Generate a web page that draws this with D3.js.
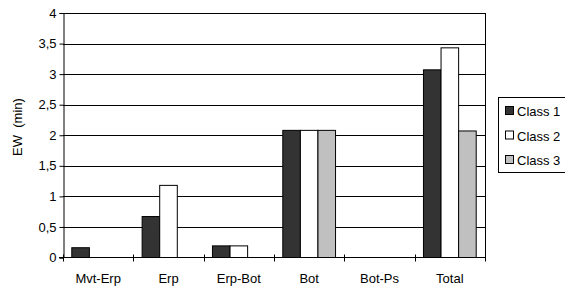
<!DOCTYPE html>
<meta charset="utf-8">
<style>
body { margin: 0; background: #fff; }
svg { font-family: "Liberation Sans", Arial, sans-serif; font-size: 13px; }
.grid line { stroke: #000; stroke-width: 1; }
.axis path, .axis line { stroke: #000; }
</style>
<body>
<div id="chart"></div>
<script src="https://cdn.jsdelivr.net/npm/d3@7"></script>
<script>
var categories = ["Mvt-Erp", "Erp", "Erp-Bot", "Bot", "Bot-Ps", "Total"];
var classes = ["Class 1", "Class 2", "Class 3"];
var class1 = [0.16, 0.67, 0.19, 2.08, 0, 3.07];
var class2 = [0, 1.18, 0.19, 2.08, 0, 3.43];
var class3 = [0, 0, 0, 2.08, 0, 2.07];
var yTicks = [0, 0.5, 1, 1.5, 2, 2.5, 3, 3.5, 4];
var colors = ["#333333", "#ffffff", "#c0c0c0"];

var series = [class1, class2, class3];

var svg = d3.select("#chart").append("svg")
    .attr("width", 565)
    .attr("height", 288);

var pLeft = 63, pRight = 485, pTop = 13, pBottom = 257.5;

var x = d3.scaleBand().domain(categories).range([pLeft, pRight]);
var xs = d3.scaleBand().domain(classes).range([0, x.bandwidth()]).paddingInner(0).paddingOuter(0.5);
var y = d3.scaleLinear().domain([0, 4]).range([pBottom, pTop]);

// horizontal grid
svg.append("g").attr("class", "grid")
  .selectAll("line").data(yTicks.slice(1)).enter().append("line")
    .attr("x1", pLeft).attr("x2", pRight)
    .attr("y1", function(d) { return Math.round(y(d)) + 0.5; })
    .attr("y2", function(d) { return Math.round(y(d)) + 0.5; });

// right frame
svg.append("line").attr("x1", pRight + 0.5).attr("x2", pRight + 0.5)
  .attr("y1", pTop).attr("y2", pBottom).attr("stroke", "#000");

// bars
categories.forEach(function(c, i) {
  series.forEach(function(s, k) {
    if (s[i] <= 0) return;
    svg.append("rect")
      .attr("x", x(c) + xs(classes[k]))
      .attr("y", y(s[i]))
      .attr("width", xs.bandwidth())
      .attr("height", pBottom - y(s[i]))
      .attr("fill", colors[k])
      .attr("stroke", "#000")
      .attr("stroke-width", 1);
  });
});

// y axis
var yAxis = d3.axisLeft(y).tickValues(yTicks).tickSize(4).tickPadding(3)
  .tickFormat(function(d) { return String(d).replace(".", ","); });
svg.append("g").attr("class", "axis")
  .attr("transform", "translate(" + (pLeft + 0.5) + ",0)")
  .call(yAxis)
  .call(function(g) {
    g.selectAll("text").attr("font-size", 13)
      .attr("font-family", "Liberation Sans, Arial, sans-serif").attr("fill", "#000");
  });

// x axis
svg.append("line").attr("x1", pLeft - 4).attr("x2", pRight)
  .attr("y1", pBottom).attr("y2", pBottom).attr("stroke", "#000");
var xTicks = categories.map(function(c) { return x(c); }).concat([pRight]);
svg.selectAll(".xtick").data(xTicks).enter().append("line")
  .attr("x1", function(d) { return Math.round(d) + 0.5; })
  .attr("x2", function(d) { return Math.round(d) + 0.5; })
  .attr("y1", pBottom - 3).attr("y2", pBottom + 4)
  .attr("stroke", "#000");
svg.selectAll(".xlabel").data(categories).enter().append("text")
  .attr("x", function(d) { return x(d) + x.bandwidth() / 2; })
  .attr("y", 283)
  .attr("text-anchor", "middle")
  .text(function(d) { return d; });

// y label
svg.append("text")
  .attr("transform", "translate(22,127) rotate(-90)")
  .attr("text-anchor", "middle")
  .attr("font-size", 13)
  .style("white-space", "pre")
  .text("EW  (min)");

// legend
var lg = svg.append("g").attr("transform", "translate(498,97)");
lg.append("rect").attr("x", 0.5).attr("y", 0.5).attr("width", 72).attr("height", 75)
  .attr("fill", "#fff").attr("stroke", "#000");
classes.forEach(function(c, k) {
  var ly = 14 + k * 24.5;
  lg.append("rect").attr("x", 7.5).attr("y", ly - 4.5).attr("width", 8).attr("height", 8)
    .attr("fill", colors[k]).attr("stroke", "#000");
  lg.append("text").attr("x", 19).attr("y", ly + 5).text(c);
});
</script>
</body>
